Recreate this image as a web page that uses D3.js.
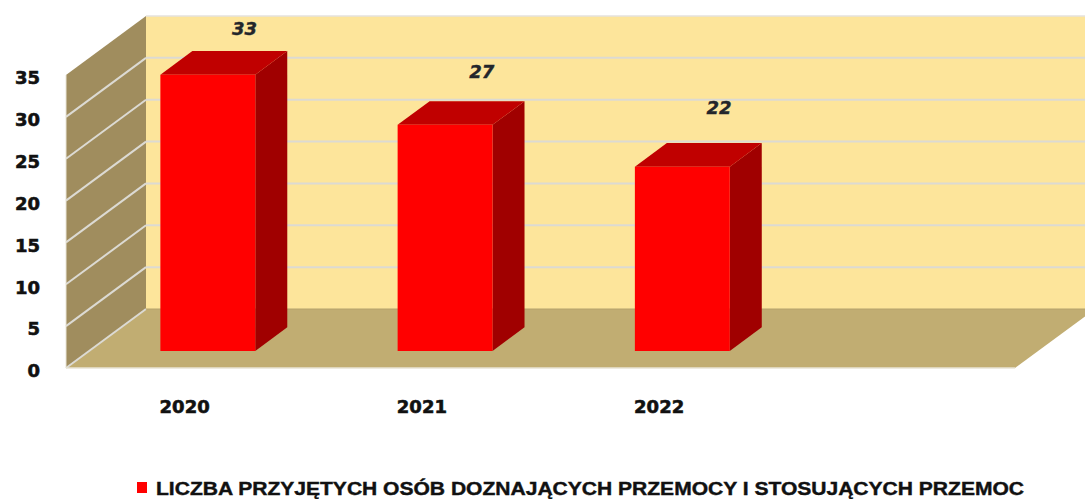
<!DOCTYPE html>
<html>
<head>
<meta charset="utf-8">
<script src="https://cdn.jsdelivr.net/npm/d3@7"></script>
<style>
  body { margin: 0; background: #fff; }
  svg { display: block; }
  .tick text { font-family: "DejaVu Sans", Verdana, sans-serif; font-weight: bold; font-size: 18px; fill: #111; stroke: #111; stroke-width: 0.6px; }
</style>
</head>
<body>
<script>
var categories = ["2020", "2021", "2022", ""];
var values = [33, 27, 22, null];
var yTicks = [0, 5, 10, 15, 20, 25, 30, 35];
var seriesName = "LICZBA PRZYJĘTYCH OSÓB DOZNAJĄCYCH PRZEMOCY I STOSUJĄCYCH PRZEMOC";

var width = 1085,
	height = 499;

// depth offset of the 3d box
var depthX = 80,
	depthY = -59;

var svg = d3.select("body").append("svg")
	.attr("width", width)
	.attr("height", height);

var x = d3.scaleBand()
	.domain(categories)
	.range([66, 1015])
	.paddingInner(0.6)
	.paddingOuter(0.3);

var y = d3.scaleLinear()
	.domain([0, 35])
	.range([368, 75]);

// project a point at depth d (0 = front, 1 = back)
function P(px, v, d) {
	return [px + d * depthX, y(v) + d * depthY];
}
function poly(pts) {
	return pts.map(function(p){ return p.join(","); }).join(" ");
}

var x0 = x.range()[0], x1 = x.range()[1];

// back wall
svg.append("polygon")
	.attr("points", poly([P(x0, 0, 1), P(x0, 35, 1), P(x1, 35, 1), P(x1, 0, 1)]))
	.attr("fill", "#fde59b");
svg.append("line")
	.attr("x1", P(x0, 35, 1)[0]).attr("y1", P(x0, 35, 1)[1])
	.attr("x2", P(x1, 35, 1)[0]).attr("y2", P(x1, 35, 1)[1])
	.attr("stroke", "#e4e2de").attr("stroke-width", 1.5);

// side wall
svg.append("polygon")
	.attr("points", poly([P(x0, 0, 0), P(x0, 35, 0), P(x0, 35, 1), P(x0, 0, 1)]))
	.attr("fill", "#a08d5e");

// floor
svg.append("polygon")
	.attr("points", poly([P(x0, 0, 0), P(x1, 0, 0), P(x1, 0, 1), P(x0, 0, 1)]))
	.attr("fill", "#c1ad72");

// gridlines
var grid = yTicks.filter(function(t){ return t > 0 && t < 35; });
svg.selectAll(".gback").data(grid).enter().append("line")
	.attr("class", "gback")
	.attr("x1", function(d){ return P(x0, d, 1)[0]; })
	.attr("y1", function(d){ return P(x0, d, 1)[1]; })
	.attr("x2", function(d){ return P(x1, d, 1)[0]; })
	.attr("y2", function(d){ return P(x1, d, 1)[1]; })
	.attr("stroke", "#dcdad3").attr("stroke-width", 2);
svg.selectAll(".gside").data(grid.concat([0])).enter().append("line")
	.attr("class", "gside")
	.attr("x1", function(d){ return P(x0, d, 0)[0]; })
	.attr("y1", function(d){ return P(x0, d, 0)[1]; })
	.attr("x2", function(d){ return P(x0, d, 1)[0]; })
	.attr("y2", function(d){ return P(x0, d, 1)[1]; })
	.attr("stroke", "#dcdad3").attr("stroke-width", 2);
// floor edges
svg.append("line")
	.attr("x1", x0).attr("y1", y(0)).attr("x2", x1).attr("y2", y(0))
	.attr("stroke", "#e8e4d6").attr("stroke-width", 1.5);
svg.append("line")
	.attr("x1", x0).attr("y1", y(0)).attr("x2", x0).attr("y2", y(35))
	.attr("stroke", "#e8e4d6").attr("stroke-width", 1);
svg.append("line")
	.attr("x1", P(x0, 0, 1)[0]).attr("y1", P(x0, 0, 1)[1])
	.attr("x2", P(x1, 0, 1)[0]).attr("y2", P(x1, 0, 1)[1])
	.attr("stroke", "#b5a26c").attr("stroke-width", 1);

// bars
var d0 = 0.29, d1 = 0.69;
var bars = svg.selectAll(".bar")
	.data(categories.map(function(c, i){ return {cat: c, v: values[i]}; })
		.filter(function(d){ return d.v != null; }))
	.enter().append("g").attr("class", "bar");

bars.append("polygon") // side
	.attr("points", function(d){
		var r = x(d.cat) + x.bandwidth();
		return poly([P(r, 0, d0), P(r, d.v, d0), P(r, d.v, d1), P(r, 0, d1)]);
	})
	.attr("fill", "#a00000");
bars.append("polygon") // top
	.attr("points", function(d){
		var l = x(d.cat), r = l + x.bandwidth();
		return poly([P(l, d.v, d0), P(r, d.v, d0), P(r, d.v, d1), P(l, d.v, d1)]);
	})
	.attr("fill", "#c00000");
bars.append("polygon") // front
	.attr("points", function(d){
		var l = x(d.cat), r = l + x.bandwidth();
		return poly([P(l, 0, d0), P(l, d.v, d0), P(r, d.v, d0), P(r, 0, d0)]);
	})
	.attr("fill", "#ff0000");

// value labels
bars.append("text")
	.attr("x", function(d){ return x(d.cat) + x.bandwidth() / 2 + 0.75 * depthX; })
	.attr("y", function(d){ return P(0, d.v, 1)[1] + 2 - (33 - d.v) * 1.2; })
	.attr("text-anchor", "middle")
	.style("font-family", "'DejaVu Sans', Verdana, sans-serif")
	.style("font-weight", "bold")
	.style("font-style", "italic")
	.style("font-size", "18px")
	.style("fill", "#23262b")
	.style("stroke", "#23262b")
	.style("stroke-width", "0.4px")
	.text(function(d){ return d.v; });

// axes
var yAxis = svg.append("g")
	.attr("transform", "translate(46,3)")
	.call(d3.axisLeft(y).tickValues(yTicks).tickSize(0).tickPadding(6));
yAxis.select(".domain").remove();

var xAxis = svg.append("g")
	.attr("transform", "translate(0,392)")
	.call(d3.axisBottom(x).tickSize(0).tickPadding(8));
xAxis.select(".domain").remove();

// legend
var legend = svg.append("g").attr("transform", "translate(137,482)");
legend.append("rect")
	.attr("width", 10).attr("height", 11)
	.attr("fill", "#ff0000");
legend.append("text")
	.attr("x", 19).attr("y", 13)
	.attr("textLength", 868)
	.attr("lengthAdjust", "spacingAndGlyphs")
	.style("font-family", "'Liberation Sans Narrow', 'Liberation Sans', Arial, sans-serif")
	.style("font-weight", "bold")
	.style("font-size", "18px")
	.style("fill", "#111")
	.style("stroke", "#111")
	.style("stroke-width", "0.4px")
	.text(seriesName);
</script>
</body>
</html>
